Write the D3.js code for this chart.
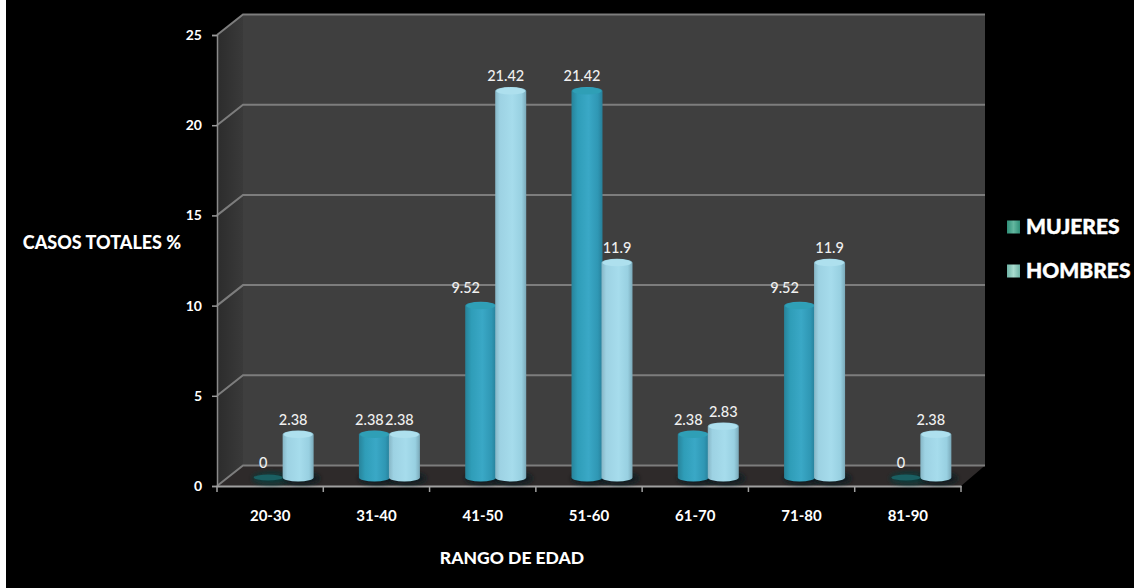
<!DOCTYPE html>
<html lang="es">
<head>
<meta charset="utf-8">
<title>Casos totales por rango de edad</title>
<script src="https://cdn.jsdelivr.net/npm/d3@7/dist/d3.min.js"></script>
<style>
  html, body { margin: 0; padding: 0; background: #000; overflow: hidden; }
  svg { display: block; }
  text { font-family: Lato, "Open Sans", sans-serif; fill: #fff; }
</style>
</head>
<body>
<svg id="chart" width="1134" height="588"></svg>
<script>
// Percentage of total cases per age range
const categories = ["20-30", "31-40", "41-50", "51-60", "61-70", "71-80", "81-90"];
const mujeres = [0, 2.38, 9.52, 21.42, 2.38, 9.52, 0];
const hombres = [2.38, 2.38, 21.42, 11.9, 2.83, 11.9, 2.38];
const yTicks = [0, 5, 10, 15, 20, 25];
const seriesNames = ["MUJERES", "HOMBRES"];

const svg = d3.select("#chart");
const defs = svg.append("defs");

// Oblique projection: the back wall is offset from the front plane
const depth = { x: 26, y: -20.5 };
const plotLeft = 217, plotRight = 961, plotBase = 486, plotTop = 35;

const x = d3.scaleBand().domain(categories).range([plotLeft, plotRight]);
const y = d3.scaleLinear().domain([0, 25]).range([plotBase, plotTop]);
const seriesX = d3.scaleOrdinal().domain(seriesNames).range([-2, 28]);
const barFloor = 8.5;   // bars stand a little behind the front edge
const rx = 15.5, ry = 4;

function hGradient(id, stops) {
  const g = defs.append("linearGradient").attr("id", id)
    .attr("x1", 0).attr("x2", 1).attr("y1", 0).attr("y2", 0);
  stops.forEach(([o, c]) => g.append("stop").attr("offset", o).attr("stop-color", c));
}
hGradient("barM", [[0, "#27839a"], [0.2, "#2f9db8"], [0.55, "#3aa8c6"], [0.85, "#2f97b4"], [1, "#277f99"]]);
hGradient("barH", [[0, "#86b6c6"], [0.15, "#9dd2e3"], [0.55, "#a6dcec"], [0.85, "#98d0e1"], [1, "#7aa9b9"]]);
hGradient("sideWall", [[0, "#2c2c2c"], [1, "#3a3a3a"]]);
hGradient("swatchM", [[0, "#2f8f78"], [0.5, "#63b79f"], [1, "#2f8f78"]]);
hGradient("swatchH", [[0, "#6fb3a6"], [0.5, "#a9dccf"], [1, "#6fb3a6"]]);
defs.append("filter").attr("id", "soft").attr("x", "-30%").attr("y", "-100%")
  .attr("width", "160%").attr("height", "300%")
  .append("feGaussianBlur").attr("stdDeviation", 2.5);

// Strip along the left edge of the page
svg.append("rect").attr("width", 6).attr("height", 588).attr("fill", "#fff");

// Walls and floor
const poly = pts => pts.map(p => p.join(",")).join(" ");
const plot = svg.append("g");
plot.append("polygon").attr("fill", "#3f3f3f").attr("points", poly([
  [plotLeft + depth.x, plotTop + depth.y], [plotRight + depth.x - 2, plotTop + depth.y],
  [plotRight + depth.x - 2, plotBase + depth.y], [plotLeft + depth.x, plotBase + depth.y]]));
plot.append("polygon").attr("fill", "url(#sideWall)").attr("points", poly([
  [plotLeft, plotTop], [plotLeft + depth.x, plotTop + depth.y],
  [plotLeft + depth.x, plotBase + depth.y], [plotLeft, plotBase]]));
plot.append("polygon").attr("fill", "#2e2a2a").attr("points", poly([
  [plotLeft, plotBase], [plotLeft + depth.x, plotBase + depth.y],
  [plotRight + depth.x - 2, plotBase + depth.y], [plotRight, plotBase]]));

// Gridlines run along the back wall and fold down the side wall
const grid = plot.append("g").attr("fill", "none").attr("stroke", "#7d7d7d").attr("stroke-width", 2);
grid.selectAll("path").data(yTicks).join("path")
  .attr("d", d => `M${plotLeft},${y(d)}L${plotLeft + depth.x},${y(d) + depth.y}L${plotRight + depth.x - 2},${y(d) + depth.y}`);

// Value axis
const yAxis = svg.append("g").attr("transform", `translate(${plotLeft},0)`)
  .call(d3.axisLeft(y).tickValues(yTicks).tickSize(5).tickPadding(10));
yAxis.select(".domain").attr("stroke", "#8a8a8a").attr("stroke-width", 1.5);
yAxis.selectAll("line").attr("stroke", "#9a9a9a").attr("stroke-width", 1.5);
yAxis.selectAll("text").attr("font-size", 14).attr("font-weight", 700);

// Category axis: labels at band centres, tick marks on band boundaries
const xAxis = svg.append("g").attr("transform", `translate(0,${plotBase})`)
  .call(d3.axisBottom(x).tickSize(0).tickPadding(24));
xAxis.select(".domain").attr("stroke", "#a0a0a0").attr("stroke-width", 2);
xAxis.selectAll("text").attr("font-size", 15).attr("font-weight", 700);
xAxis.selectAll(".bound").data(d3.range(categories.length + 1)).join("line")
  .attr("class", "bound").attr("stroke", "#a0a0a0").attr("stroke-width", 1.5)
  .attr("x1", i => plotLeft + i * x.step()).attr("x2", i => plotLeft + i * x.step())
  .attr("y1", 0).attr("y2", 6);

// Cylinders
const rows = seriesNames.flatMap((name, s) =>
  categories.map((c, i) => ({ name, s, c, v: (s ? hombres : mujeres)[i] })));
const cx = d => x(d.c) + x.bandwidth() / 2 + seriesX(d.name);
const floorY = plotBase - barFloor;
const topY = d => y(d.v) - barFloor;

const bars = svg.append("g");
bars.selectAll("ellipse.shadow").data(rows).join("ellipse")
  .attr("class", "shadow").attr("filter", "url(#soft)")
  .attr("cx", d => cx(d) + 3).attr("cy", floorY + 1)
  .attr("rx", rx + 3).attr("ry", ry + 2)
  .attr("fill", d => d.v > 0 ? "#0a1c22" : "#0b3a3a");

const cylinders = bars.selectAll("g.bar").data(rows.filter(d => d.v > 0)).join("g").attr("class", "bar");
cylinders.append("path")
  .attr("fill", d => d.s ? "url(#barH)" : "url(#barM)")
  .attr("d", d => {
    const a = cx(d) - rx, b = cx(d) + rx;
    return `M${a},${topY(d)}L${a},${floorY}A${rx},${ry} 0 0 0 ${b},${floorY}L${b},${topY(d)}A${rx},${ry} 0 0 0 ${a},${topY(d)}Z`;
  });
cylinders.append("ellipse")
  .attr("cx", cx).attr("cy", topY).attr("rx", rx - 1).attr("ry", ry - 0.5)
  .attr("fill", d => d.s ? "#aee0ee" : "#2f9fb6");

// Empty categories leave a flat disc on the floor
bars.selectAll("ellipse.flat").data(rows.filter(d => d.v === 0)).join("ellipse")
  .attr("class", "flat").attr("cx", cx).attr("cy", floorY)
  .attr("rx", rx - 1).attr("ry", 3).attr("fill", "#1a5f62");

// Data labels sit slightly left of each cylinder
const labelShift = d => (d.s === 0 && d.v === 9.52) ? -15 : (d.v === 11.9 || d.v === 2.83) ? 0 : -5;
svg.append("g").selectAll("text").data(rows).join("text")
  .attr("x", d => cx(d) + labelShift(d))
  .attr("y", d => topY(d) - (d.v === 9.52 ? 18 : 15))
  .attr("dy", "0.35em").attr("text-anchor", "middle")
  .attr("font-size", 14.5).attr("font-weight", 500)
  .style("fill", "#f0f0f0")
  .text(d => d.v);

// Axis titles
svg.append("text").attr("x", 102).attr("y", 243).attr("dy", "0.35em")
  .attr("text-anchor", "middle").attr("font-size", 18).attr("font-weight", 900)
  .text("CASOS TOTALES %");
svg.append("text").attr("x", 512).attr("y", 558).attr("dy", "0.35em")
  .attr("text-anchor", "middle").attr("font-size", 17.5).attr("font-weight", 900)
  .text("RANGO DE EDAD");

// Legend
const legendY = d3.scalePoint().domain(seriesNames).range([227, 271]);
const legend = svg.append("g").selectAll("g").data(seriesNames).join("g")
  .attr("transform", d => `translate(1007,${legendY(d)})`);
legend.append("rect").attr("y", -6.5).attr("width", 13).attr("height", 13)
  .attr("fill", (d, i) => i ? "url(#swatchH)" : "url(#swatchM)");
legend.append("text").attr("x", 19).attr("dy", "0.35em")
  .attr("font-size", 21).attr("font-weight", 900)
  .attr("stroke", "#fff").attr("stroke-width", 0.4).text(d => d);
</script>
</body>
</html>
